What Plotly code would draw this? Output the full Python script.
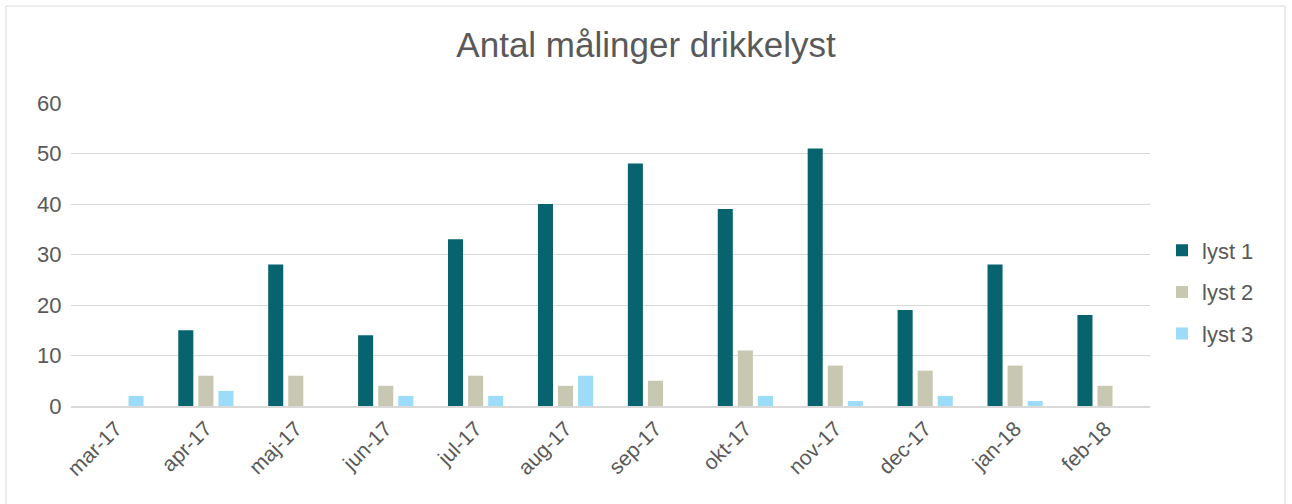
import plotly.graph_objects as go

months = ["mar-17", "apr-17", "maj-17", "jun-17", "jul-17", "aug-17",
          "sep-17", "okt-17", "nov-17", "dec-17", "jan-18", "feb-18"]
lyst1 = [0, 15, 28, 14, 33, 40, 48, 39, 51, 19, 28, 18]
lyst2 = [0, 6, 6, 4, 6, 4, 5, 11, 8, 7, 8, 4]
lyst3 = [2, 3, 0, 2, 2, 6, 0, 2, 1, 2, 1, 0]
series_names = ["lyst 1", "lyst 2", "lyst 3"]
colors = ["#07636E", "#C8C8B2", "#9DDCF9"]

W, H = 1292, 504
L, R, T, B = 71, 142, 103, 98
pw, ph = W - L - R, H - T - B

fig = go.Figure()
for i, (name, vals, col) in enumerate(zip(series_names, [lyst1, lyst2, lyst3], colors)):
    fig.add_trace(go.Bar(x=months, y=vals, name=name, marker_color=col,
                         marker_line_width=0, legendgroup=f"g{i}"))

def px_x(p):
    return (p - L) / pw

def px_y(p):
    return (H - B - p) / ph

fig.update_layout(
    width=W, height=H,
    margin=dict(l=L, r=R, t=T, b=B),
    paper_bgcolor="white", plot_bgcolor="white",
    barmode="group", bargap=0.33, bargroupgap=0.25,
    font=dict(family="Liberation Sans, Arial, sans-serif", color="#595959"),
    title=dict(text="Antal målinger drikkelyst", x=0.5, xanchor="center",
               y=1 - 45 / H, yanchor="middle",
               font=dict(size=35, color="#595959")),
    xaxis=dict(showgrid=False, tickangle=-45, tickfont=dict(size=21, color="#595959"),
               showline=True, linecolor="#D9D9D9", linewidth=2, ticks=""),
    yaxis=dict(range=[0, 60], dtick=10, showgrid=True, gridcolor="#D9D9D9",
               gridwidth=1, zeroline=False, showline=False,
               tickfont=dict(size=22, color="#595959"), ticks="outside",
               ticklen=4, tickcolor="white"),
    legend=dict(x=px_x(1162), xanchor="left", y=px_y(292), yanchor="middle",
                font=dict(size=22, color="#595959"), tracegroupgap=10,
                traceorder="grouped", itemwidth=30),
    shapes=[dict(type="rect", xref="paper", yref="paper",
                 x0=px_x(6), x1=px_x(1285), y0=px_y(520), y1=px_y(6),
                 line=dict(color="#D9D9D9", width=1), layer="below")],
)

fig.write_html("out.html", config={"displayModeBar": False},
               post_script="document.body.style.margin='0';document.body.style.padding='0';")
